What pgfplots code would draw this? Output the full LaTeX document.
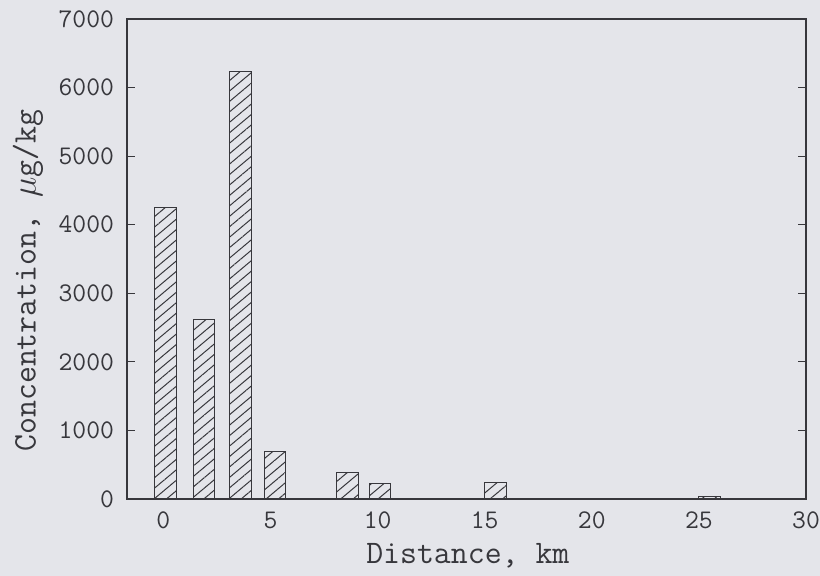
\documentclass[border=0pt]{standalone}
\usepackage{fontspec}
\usepackage{pgfplots}
\pgfplotsset{compat=1.18}
\usetikzlibrary{patterns.meta}
\definecolor{bg}{RGB}{228,229,234}
\definecolor{ink}{RGB}{55,55,60}
\begin{document}
\begin{tikzpicture}
\fill[bg] (-63.5bp,-38.5bp) rectangle (346.5bp,249.5bp);
\useasboundingbox (-63.5bp,-38.5bp) rectangle (346.5bp,249.5bp);
\begin{axis}[
  at={(0,0)}, anchor=south west,
  scale only axis, width=339.5bp, height=240bp,
  xmin=-1.7, xmax=30, ymin=0, ymax=7000,
  xtick={0,5,...,30}, ytick={0,1000,...,7000},
  major x tick style={draw=none},
  tick align=inside, ytick pos=both,
  major tick length=4bp,
  axis line style={draw=ink, line width=0.7bp},
  every tick/.style={draw=ink, line width=0.6bp},
  ticklabel style={font=\ttfamily\fontsize{13.5}{15}\selectfont, text=ink},
  /pgf/number format/assume math mode=true,
  /pgf/number format/1000 sep={},
  yticklabel style={xshift=-3bp},
  xticklabel style={yshift=-3bp},
  xlabel={Distance, km}, ylabel={Concentration, $\mu$g/kg},
  label style={font=\ttfamily\fontsize{16.5}{18}\selectfont, text=ink},
  xlabel style={at={(axis description cs:0.502,-0.119)}, anchor=center},
  ylabel style={at={(axis description cs:-0.146,0.455)}, anchor=center},
]
\addplot[ybar, bar width=1, draw=ink, line width=0.5bp,
  pattern={Lines[angle=40,distance=4bp,line width=0.5bp]}, pattern color=ink]
  coordinates {(0.1,4250) (1.9,2625) (3.6,6240) (5.2,690) (8.6,390) (10.1,230) (15.5,245) (25.5,35)};
\end{axis}
\end{tikzpicture}
\end{document}
